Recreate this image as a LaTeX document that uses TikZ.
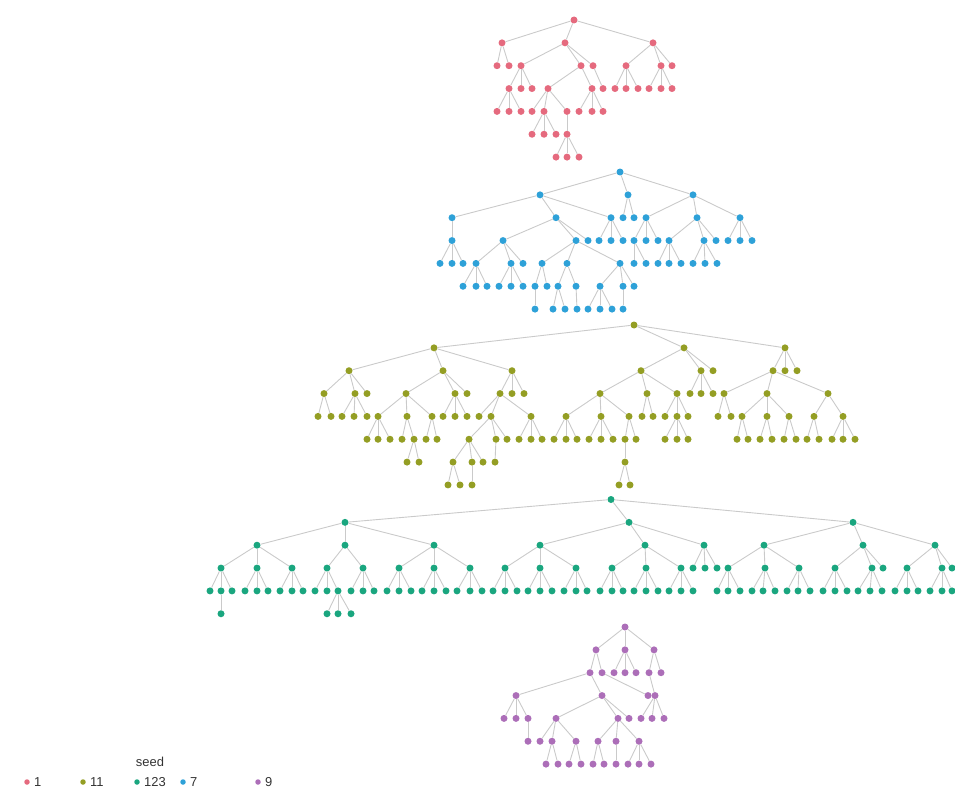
\documentclass[tikz,border=0pt]{standalone}
\usepackage{fontspec}
\setmainfont{Liberation Sans}
\usepackage{tikz}
\usetikzlibrary{positioning}
\definecolor{seedOne}{HTML}{E56A7E}
\definecolor{seedEleven}{HTML}{949E24}
\definecolor{seedOTT}{HTML}{1AA67F}
\definecolor{seedSeven}{HTML}{2EA1D8}
\definecolor{seedNine}{HTML}{AC6EB8}
\definecolor{edgegray}{HTML}{CACACA}

\begin{document}
\begin{tikzpicture}[
            x=1bp, y=-1bp,
            dot/.style={circle, inner sep=0pt, minimum size=7bp},
            edge/.style={draw=edgegray, line width=0.9bp},
            key/.style={circle, inner sep=0pt, minimum size=5.5bp},
            keylabel/.style={anchor=west, inner sep=0pt, text=black!80, font=\fontsize{13}{15}\selectfont}
        ]
            \useasboundingbox (0,0) rectangle (955,791);

            % Tree: seed 1
            \node[dot, fill=seedOne] (r-0-574) at (574,20) {};
            \foreach \x/\l/\p in {502/1/574, 565/1/574, 653/1/574,
                497/2/502, 509/2/502, 521/2/565, 581/2/565, 593/2/565, 626/2/653, 661/2/653, 672/2/653,
                509/3/521, 521/3/521, 532/3/521, 548/3/581, 592/3/581, 603/3/593, 615/3/626, 626/3/626, 638/3/626, 649/3/661, 661/3/661, 672/3/661,
                497/4/509, 509/4/509, 521/4/509, 532/4/548, 544/4/548, 567/4/548, 579/4/592, 592/4/592, 603/4/592,
                532/5/544, 544/5/544, 556/5/544, 567/5/567,
                556/6/567, 567/6/567, 579/6/567}{
                \pgfmathtruncatemacro\up{\l-1}
                \node[dot, fill=seedOne] (r-\l-\x) at (\x,{20+22.85*\l}) {};
                \draw[edge] (r-\up-\p) -- (r-\l-\x);
            }

            % Tree: seed 7
            \node[dot, fill=seedSeven] (b-0-620) at (620,172) {};
            \foreach \x/\l/\p in {540/1/620, 628/1/620, 693/1/620,
                452/2/540, 556/2/540, 611/2/540, 623/2/628, 634/2/628, 646/2/693, 697/2/693, 740/2/693,
                452/3/452, 503/3/556, 576/3/556, 588/3/556, 599/3/611, 611/3/611, 623/3/611, 634/3/646, 646/3/646, 658/3/646, 669/3/697, 704/3/697, 716/3/697, 728/3/740, 740/3/740, 752/3/740,
                440/4/452, 452/4/452, 463/4/452, 476/4/503, 511/4/503, 523/4/503, 542/4/576, 567/4/576, 620/4/576, 634/4/634, 646/4/634, 658/4/669, 669/4/669, 681/4/669, 693/4/704, 705/4/704, 717/4/704,
                463/5/476, 476/5/476, 487/5/476, 499/5/511, 511/5/511, 523/5/511, 535/5/542, 547/5/542, 558/5/567, 576/5/567, 600/5/620, 623/5/620, 634/5/620,
                535/6/535, 553/6/558, 565/6/558, 577/6/576, 588/6/600, 600/6/600, 612/6/600, 623/6/623}{
                \pgfmathtruncatemacro\up{\l-1}
                \node[dot, fill=seedSeven] (b-\l-\x) at (\x,{172+22.85*\l}) {};
                \draw[edge] (b-\up-\p) -- (b-\l-\x);
            }

            % Tree: seed 11
            \node[dot, fill=seedEleven] (o-0-634) at (634,325) {};
            \foreach \x/\l/\p in {434/1/634, 684/1/634, 785/1/634,
                349/2/434, 443/2/434, 512/2/434, 641/2/684, 701/2/684, 713/2/684, 773/2/785, 785/2/785, 797/2/785,
                324/3/349, 355/3/349, 367/3/349, 406/3/443, 455/3/443, 467/3/443, 500/3/512, 512/3/512, 524/3/512, 600/3/641, 647/3/641, 677/3/641, 690/3/701, 701/3/701, 713/3/701, 724/3/773, 767/3/773, 828/3/773,
                318/4/324, 331/4/324, 342/4/355, 354/4/355, 367/4/355, 378/4/406, 407/4/406, 432/4/406, 443/4/455, 455/4/455, 467/4/455, 479/4/500, 491/4/500, 531/4/500, 566/4/600, 601/4/600, 629/4/600, 642/4/647, 653/4/647, 665/4/677, 677/4/677, 688/4/677, 718/4/724, 731/4/724, 742/4/767, 767/4/767, 789/4/767, 814/4/828, 843/4/828,
                367/5/378, 378/5/378, 390/5/378, 402/5/407, 414/5/407, 426/5/432, 437/5/432, 469/5/491, 496/5/491, 507/5/491, 519/5/531, 531/5/531, 542/5/531, 554/5/566, 566/5/566, 577/5/566, 589/5/601, 601/5/601, 613/5/601, 625/5/629, 636/5/629, 665/5/677, 677/5/677, 688/5/677, 737/5/742, 748/5/742, 760/5/767, 772/5/767, 784/5/789, 796/5/789, 807/5/814, 819/5/814, 832/5/843, 843/5/843, 855/5/843,
                407/6/414, 419/6/414, 453/6/469, 472/6/469, 483/6/469, 495/6/496, 625/6/625,
                448/7/453, 460/7/453, 472/7/472, 619/7/625, 630/7/625}{
                \pgfmathtruncatemacro\up{\l-1}
                \node[dot, fill=seedEleven] (o-\l-\x) at (\x,{325+22.85*\l}) {};
                \draw[edge] (o-\up-\p) -- (o-\l-\x);
            }

            % Tree: seed 123
            \node[dot, fill=seedOTT] (t-0-611) at (611,499.5) {};
            \foreach \x/\l/\p in {345/1/611, 629/1/611, 853/1/611,
                257/2/345, 345/2/345, 434/2/345, 540/2/629, 645/2/629, 704/2/629, 764/2/853, 863/2/853, 935/2/853,
                221/3/257, 257/3/257, 292/3/257, 327/3/345, 363/3/345, 399/3/434, 434/3/434, 470/3/434, 505/3/540, 540/3/540, 576/3/540, 612/3/645, 646/3/645, 681/3/645, 693/3/704, 705/3/704, 717/3/704, 728/3/764, 765/3/764, 799/3/764, 835/3/863, 872/3/863, 883/3/863, 907/3/935, 942/3/935, 952/3/935,
                210/4/221, 221/4/221, 232/4/221, 245/4/257, 257/4/257, 268/4/257, 280/4/292, 292/4/292, 303/4/292, 315/4/327, 327/4/327, 338/4/327, 351/4/363, 363/4/363, 374/4/363, 387/4/399, 399/4/399, 411/4/399, 422/4/434, 434/4/434, 446/4/434, 457/4/470, 470/4/470, 482/4/470, 493/4/505, 505/4/505, 517/4/505, 528/4/540, 540/4/540, 552/4/540, 564/4/576, 576/4/576, 587/4/576, 600/4/612, 612/4/612, 623/4/612, 634/4/646, 646/4/646, 658/4/646, 669/4/681, 681/4/681, 693/4/681, 717/4/728, 728/4/728, 740/4/728, 752/4/765, 763/4/765, 775/4/765, 787/4/799, 798/4/799, 810/4/799, 823/4/835, 835/4/835, 847/4/835, 858/4/872, 870/4/872, 882/4/872, 895/4/907, 907/4/907, 918/4/907, 930/4/942, 942/4/942, 952/4/942,
                221/5/221, 327/5/338, 338/5/338, 351/5/338}{
                \pgfmathtruncatemacro\up{\l-1}
                \node[dot, fill=seedOTT] (t-\l-\x) at (\x,{499.5+22.85*\l}) {};
                \draw[edge] (t-\up-\p) -- (t-\l-\x);
            }

            % Tree: seed 9
            \node[dot, fill=seedNine] (p-0-625) at (625,627) {};
            \foreach \x/\l/\p in {596/1/625, 625/1/625, 654/1/625,
                590/2/596, 602/2/596, 614/2/625, 625/2/625, 636/2/625, 649/2/654, 661/2/654,
                516/3/590, 602/3/590, 648/3/602, 655/3/649,
                504/4/516, 516/4/516, 528/4/516, 556/4/602, 618/4/602, 629/4/602, 641/4/655, 652/4/655, 664/4/655,
                528/5/528, 540/5/556, 552/5/556, 576/5/556, 598/5/618, 616/5/618, 639/5/618,
                546/6/552, 558/6/552, 569/6/576, 581/6/576, 593/6/598, 604/6/598, 616/6/616, 628/6/639, 639/6/639, 651/6/639}{
                \pgfmathtruncatemacro\up{\l-1}
                \node[dot, fill=seedNine] (p-\l-\x) at (\x,{627+22.85*\l}) {};
                \draw[edge] (p-\up-\p) -- (p-\l-\x);
            }

            % Legend
            \node[text=black!80, font=\fontsize{13}{15}\selectfont] (legtitle) at (150,762) {seed};
            \node[key, fill=seedOne] (k1) at (27,782) {};
            \node[keylabel, right=4bp of k1] {1};
            \node[key, fill=seedEleven] (k11) at (83,782) {};
            \node[keylabel, right=4bp of k11] {11};
            \node[key, fill=seedOTT] (k123) at (137,782) {};
            \node[keylabel, right=4bp of k123] {123};
            \node[key, fill=seedSeven] (k7) at (183,782) {};
            \node[keylabel, right=4bp of k7] {7};
            \node[key, fill=seedNine] (k9) at (258,782) {};
            \node[keylabel, right=4bp of k9] {9};
        \end{tikzpicture}
\end{document}
